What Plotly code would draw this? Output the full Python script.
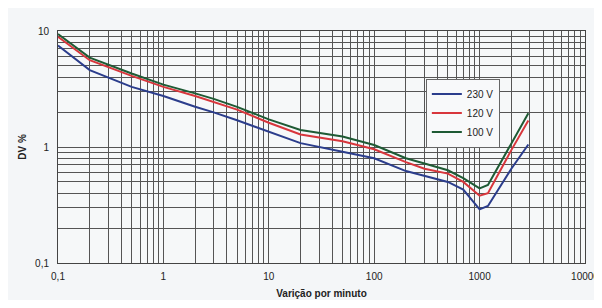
import plotly.graph_objects as go

x_vals = [0.1, 0.2, 0.5, 1, 2, 3, 5, 10, 20, 50, 100, 200, 300, 500, 700, 1000, 1200, 2000, 2900]
dv_230 = [7.5, 4.6, 3.3, 2.75, 2.22, 1.99, 1.7, 1.36, 1.08, 0.91, 0.80, 0.62, 0.56, 0.50, 0.43, 0.29, 0.31, 0.65, 1.05]
dv_120 = [8.9, 5.6, 4.1, 3.3, 2.75, 2.45, 2.1, 1.62, 1.28, 1.12, 0.955, 0.74, 0.65, 0.59, 0.50, 0.38, 0.40, 0.94, 1.69]
dv_100 = [9.4, 5.9, 4.3, 3.45, 2.9, 2.6, 2.22, 1.73, 1.40, 1.23, 1.04, 0.80, 0.72, 0.63, 0.54, 0.44, 0.47, 1.09, 1.95]

series_names = ["230 V", "120 V", "100 V"]
series_colors = ["#2b3d8c", "#d8363c", "#1e5a34"]

x_grid = [m * 10 ** e for e in range(-1, 4) for m in range(1, 10)] + [10000]
x_text = ["0,1" if v == 0.1 else (str(int(v)) if v in (1, 10, 100, 1000, 10000) else "") for v in x_grid]
y_grid = [m * 10 ** e for e in range(-1, 1) for m in range(1, 10)] + [10]
y_text = ["0,1" if v == 0.1 else (str(int(v)) if v in (1, 10) else "") for v in y_grid]

fig = go.Figure()
for name, ys, col in zip(series_names, [dv_230, dv_120, dv_100], series_colors):
    fig.add_trace(go.Scatter(x=x_vals, y=ys, mode="lines", name=name,
                             line=dict(color=col, width=2)))

font = dict(family="Liberation Sans, Arial, sans-serif", size=10, color="#222")
fig.update_layout(
    width=594, height=292,
    margin=dict(l=50, r=17, t=23, b=37),
    paper_bgcolor="#f4f6f8", plot_bgcolor="#f6f8f9",
    font=font,
    showlegend=True,
    legend=dict(x=0.698, y=0.795, xanchor="left", yanchor="top",
                bgcolor="#f8f9fa", bordercolor="#666", borderwidth=1,
                font=dict(family="Liberation Sans, Arial, sans-serif", size=10, color="#222"),
                tracegroupgap=0, itemwidth=30),
    xaxis=dict(type="log", range=[-1, 4], tickvals=x_grid, ticktext=x_text,
               showgrid=True, gridcolor="#555", gridwidth=1, zeroline=False,
               showline=True, linecolor="#444", mirror=True, ticks="",
               ticklabelstandoff=4, automargin=False, ticklabeloverflow="allow",
               title=dict(text="<b>Varição por minuto</b>", font=dict(size=10), standoff=8)),
    yaxis=dict(type="log", range=[-1, 1], tickvals=y_grid, ticktext=y_text,
               showgrid=True, gridcolor="#555", gridwidth=1, zeroline=False,
               showline=True, linecolor="#444", mirror=True, ticks="",
               ticklabelstandoff=6, automargin=False,
               title=dict(text="<b>DV %</b>", font=dict(size=10), standoff=6)),
)
fig.write_html("out.html")
